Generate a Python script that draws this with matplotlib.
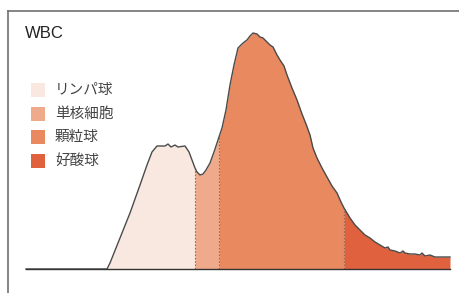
import matplotlib
matplotlib.use("Agg")
import matplotlib.pyplot as plt
import numpy as np

plt.rcParams['font.family'] = ['Noto Sans CJK JP', 'DejaVu Sans']

# Histogram channel (x) and count height (y)
channel = [26, 107, 110, 120, 130, 140, 147, 152, 157, 165, 168, 171, 175, 178, 185,
           189, 192, 195, 197, 200, 203, 206, 210, 214, 217, 222, 226, 230, 234, 238,
           243, 247, 250, 253, 257, 260, 263, 267, 270, 273, 277, 280, 284, 287, 292,
           297, 302, 306, 310, 313, 317, 322, 327, 332, 337, 341, 344, 350, 355, 360,
           365, 370, 375, 380, 385, 388, 390, 395, 400, 403, 405, 410, 415, 420, 422,
           425, 430, 435, 440, 445, 450]
count = [0, 0, 6, 31, 56, 84, 104, 117, 123, 123, 125, 122, 124, 122, 123,
         117, 109, 101, 97, 94, 95, 99, 106, 117, 126, 141, 159, 184, 204, 221,
         226, 229, 233, 236, 235, 232, 231, 227, 224, 222, 214, 209, 203, 194, 181,
         169, 155, 145, 134, 121, 111, 101, 92, 83, 76, 67, 61, 51, 44, 39,
         34, 31, 27, 24, 21, 22, 19, 18, 16, 18, 16, 15, 15, 14, 16,
         13, 14, 12, 12, 12, 12]

labels = ['リンパ球', '単核細胞', '顆粒球', '好酸球']
bounds = [107, 195, 219, 344, 450]
colors = ['#f8e8df', '#eeaa8b', '#e9895f', '#e0613e']

fig = plt.figure(figsize=(4.6, 2.93), dpi=100)
ax = fig.add_axes([0, 0, 1, 1])
ax.set_xlim(0, 460)
ax.set_ylim(-24, 269)
ax.axis('off')

x = np.array(channel, dtype=float)
y = np.array(count, dtype=float)
xf = np.linspace(x.min(), x.max(), 2000)
xf = np.unique(np.concatenate([xf, x, bounds]))
yf = np.interp(xf, x, y)

for i in range(4):
    m = (xf >= bounds[i]) & (xf <= bounds[i + 1])
    ax.fill_between(xf[m], 0, yf[m], color=colors[i], lw=0, zorder=1)

for b in bounds[1:4]:
    ax.plot([b, b], [0, np.interp(b, x, y)], ls=(0, (1.5, 1.5)), color='#a0664e',
            lw=0.8, zorder=2)

m = x <= bounds[-1]
ax.plot(x[m], y[m], color='#4a4a4a', lw=1.0, zorder=3)
ax.plot([26, 450], [0, 0], color='#333333', lw=1.0, zorder=3)

# Frame
ax.plot([8, 8], [258, -30], color='#707070', lw=1.2, clip_on=False)
ax.plot([8, 465], [258, 258], color='#707070', lw=1.2, clip_on=False)

ax.text(25, 235, 'WBC', fontsize=12, family=['Liberation Sans', 'DejaVu Sans'],
        color='#222222', va='center', ha='left')

rows = [179, 155, 132, 108]
for lab, c, r in zip(labels, colors, rows):
    ax.add_patch(plt.Rectangle((31, r - 7), 14, 14, color=c, lw=0))
    ax.text(55, r, lab, fontsize=10.5, color='#444444', va='center', ha='left')

fig.savefig('out.png', dpi=100)
